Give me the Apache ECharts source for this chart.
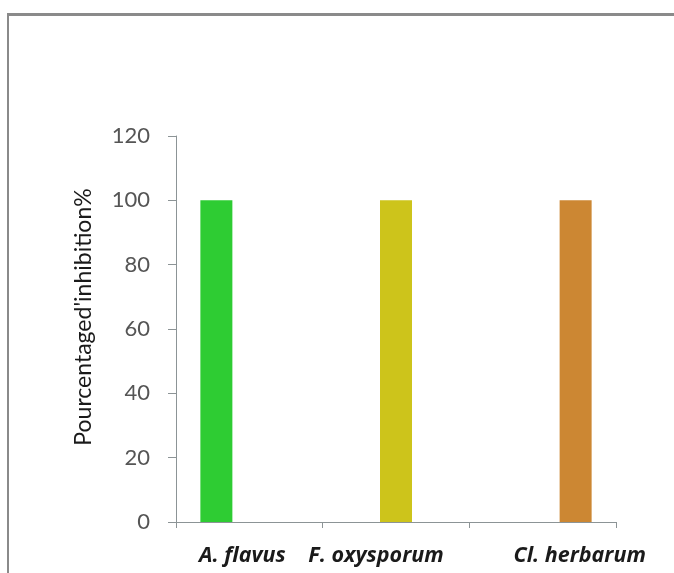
<!DOCTYPE html>
<html>
<head>
<meta charset="utf-8">
<script src="https://cdn.jsdelivr.net/npm/echarts@6/dist/echarts.min.js"></script>
<style>
html,body{margin:0;padding:0;background:#fff;}
#frame{position:absolute;left:7px;top:13px;width:680px;height:580px;border-top:3px solid #8a8a8a;border-left:2px solid #8a8a8a;}
#chart{position:absolute;left:0;top:0;width:674px;height:573px;}
</style>
</head>
<body>
<div id="frame"></div>
<div id="chart"></div>
<script>
const categories = ['A. flavus', 'F. oxysporum', 'Cl. herbarum'];
const seriesNames = ['A. flavus', 'F. oxysporum', 'Cl. herbarum'];
const seriesValues = [
  [100, null, null],
  [null, 100, null],
  [null, null, 100]
];
const seriesColors = ['#2ecc33', '#cdc41b', '#cc8733'];
const yTicks = [0, 20, 40, 60, 80, 100, 120];
const yTitle = "Pourcentaged'inhibition%";

const labelStyles = ['l0', 'l1', 'l2'];
const rich = {
  l0: {padding: [0, 14, 0, 0]},
  l1: {padding: [0, 40, 0, 0]},
  l2: {padding: [0, 0, 0, 74]}
};
Object.keys(rich).forEach(k => Object.assign(rich[k], {
  fontFamily: 'Open Sans', fontSize: 21.5, fontWeight: 'bold', fontStyle: 'italic', color: '#1a1a1a'
}));

const chart = echarts.init(document.getElementById('chart'));
chart.setOption({
  animation: false,
  backgroundColor: 'transparent',
  grid: {left: 176, right: 58, top: 136, bottom: 51, containLabel: false},
  xAxis: {
    type: 'category',
    data: categories,
    axisLine: {lineStyle: {color: '#8c9496', width: 1}},
    axisTick: {show: true, alignWithLabel: false, length: 6, lineStyle: {color: '#8c9496'}},
    axisLabel: {
      margin: 23,
      formatter: (v, i) => '{' + labelStyles[i] + '|' + v + '}',
      rich: rich
    }
  },
  yAxis: {
    type: 'value',
    min: yTicks[0],
    max: yTicks[yTicks.length - 1],
    interval: yTicks[1] - yTicks[0],
    name: yTitle,
    nameLocation: 'middle',
    nameGap: 81,
    nameRotate: 90,
    nameTextStyle: {fontFamily: 'Lato', fontSize: 23, color: '#1a1a1a', padding: [0, 0, 0, 24]},
    axisLine: {show: true, lineStyle: {color: '#8c9496', width: 1}},
    axisTick: {show: true, length: 8, lineStyle: {color: '#8c9496'}},
    splitLine: {show: false},
    axisLabel: {fontFamily: 'Lato', fontSize: 22, color: '#555', margin: 26, padding: [10, 0, 0, 0]}
  },
  series: seriesValues.map((vals, i) => ({
    name: seriesNames[i],
    type: 'bar',
    data: vals,
    barWidth: 32,
    barGap: '3%',
    itemStyle: {color: seriesColors[i]}
  }))
});
</script>
</body>
</html>
